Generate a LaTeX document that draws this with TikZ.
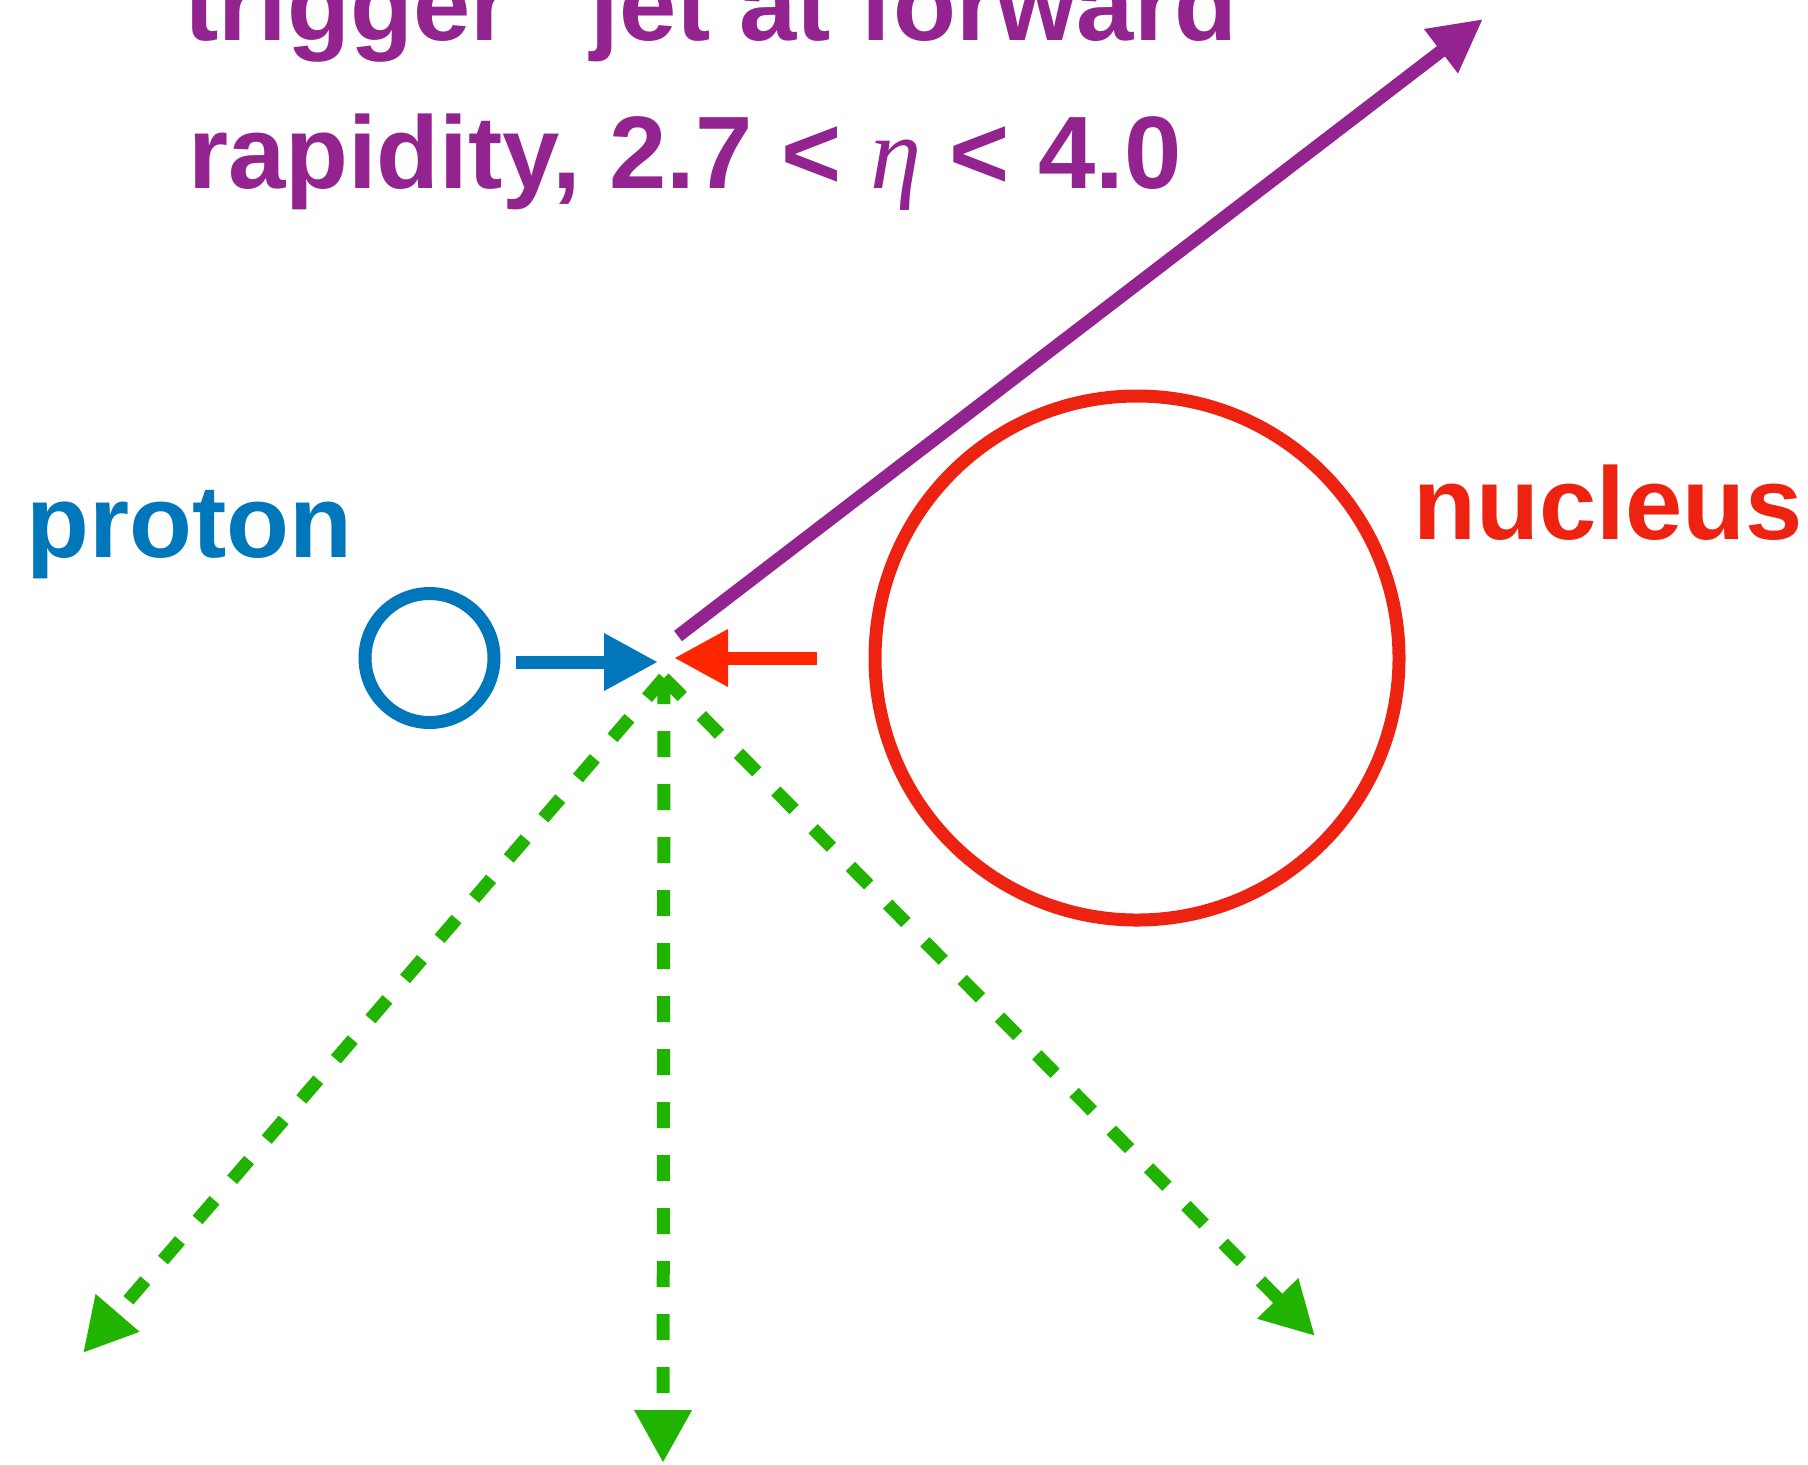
\documentclass[tikz,border=0pt]{standalone}
\usepackage{fontspec}
\setmainfont{Liberation Sans}
\newfontfamily\etafont{Liberation Serif}
\usepackage{tikz}
\usetikzlibrary{arrows.meta,calc}
\definecolor{protonblue}{HTML}{0077BB}
\definecolor{nucleusred}{HTML}{EE2210}
\definecolor{beamred}{HTML}{FF2600}
\definecolor{jetpurple}{HTML}{92238F}
\definecolor{hadrongreen}{HTML}{20B400}

\begin{document}
\begin{tikzpicture}[x=0.5pt, y=-0.5pt,
    every node/.style={font=\fontsize{51.5pt}{74pt}\selectfont\bfseries, inner sep=0pt},
    beam/.style={line width=6.5pt, -{Triangle[length=27pt,width=27pt]}},
    spray/.style={line width=6.5pt, hadrongreen, dash pattern=on 13pt off 13.5pt,
        -{Triangle[length=26.5pt,width=27pt]}}]
    \useasboundingbox (0,0) rectangle (1808,1464);
    \clip (0,0) rectangle (1808,1464);

    % Colliding particles
    \node[circle, draw=protonblue, line width=6.5pt, minimum size=64.5pt] (proton) at (429.5,658) {};
    \node[circle, draw=nucleusred, line width=6.5pt, minimum size=262pt] (nucleus) at (1137,658) {};

    % Labels
    \node[anchor=base west, text=protonblue] (protonlabel) at (26,557) {proton};
    \node[anchor=base west, text=nucleusred] (nucleuslabel) at (1413,539) {nucleus};
    \node[anchor=base, text=jetpurple] (trigline) at (685,40) {“trigger” jet at forward};
    \node[anchor=base, text=jetpurple] (rapline) at (685,188)
        {rapidity, 2.7 < {\etafont\mdseries\itshape η} < 4.0};

    % Arrow ends
    \coordinate (ptip) at (658,662);
    \coordinate (atip) at (674,658);
    \coordinate (jetbase) at (678,636);
    \coordinate (jettip) at (1483,19);
    \coordinate (vertex) at (664,678);
    \coordinate (lefttip) at (83,1353);
    \coordinate (downtip) at (663,1463);
    \coordinate (righttip) at (1315,1336);

    % Beams
    \draw[beam, protonblue] ($(proton.center)+(86.5,4)$) -- (ptip);
    \draw[beam, beamred] ($(nucleus.center)+(-320,0)$) -- (atip);

    % Forward jet
    \draw[line width=6.5pt, jetpurple, -{Triangle[length=26.5pt,width=26pt]}] (jetbase) -- (jettip);

    % Recoil
    \draw[spray] (vertex) -- (lefttip);
    \draw[spray] (vertex) -- (downtip);
    \draw[spray] (vertex) -- (righttip);

\end{tikzpicture}
\end{document}
